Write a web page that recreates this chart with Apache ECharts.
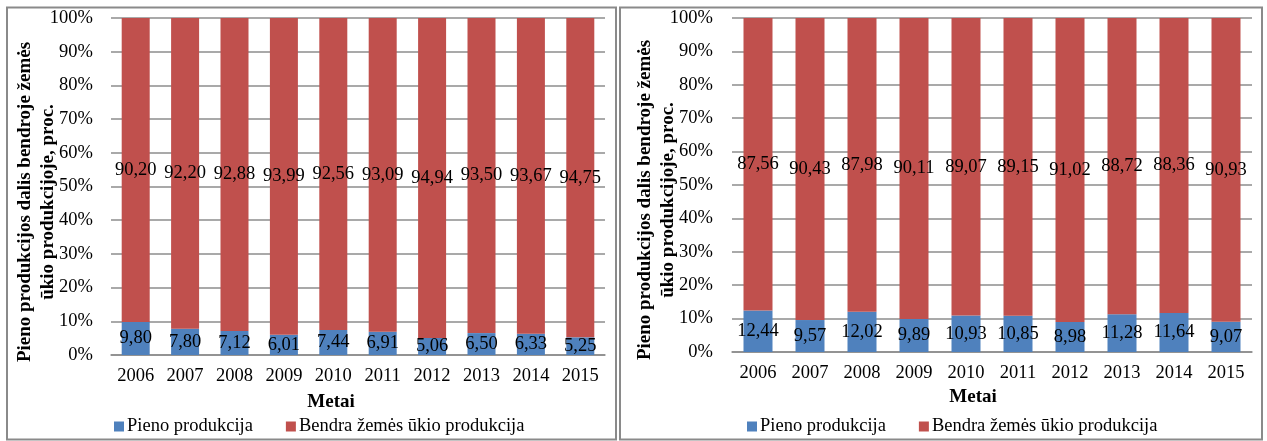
<!DOCTYPE html>
<html>
<head>
<meta charset="utf-8">
<script src="https://cdn.jsdelivr.net/npm/echarts@6/dist/echarts.min.js"></script>
<style>
  html, body { margin: 0; padding: 0; background: #fff; }
  #chart { width: 1267px; height: 441px; }
</style>
</head>
<body>
<div id="chart"></div>
<script>
var years = ['2006', '2007', '2008', '2009', '2010', '2011', '2012', '2013', '2014', '2015'];

// left panel
var milkA = [9.80, 7.80, 7.12, 6.01, 7.44, 6.91, 5.06, 6.50, 6.33, 5.25];
var totalA = [90.20, 92.20, 92.88, 93.99, 92.56, 93.09, 94.94, 93.50, 93.67, 94.75];
// right panel
var milkB = [12.44, 9.57, 12.02, 9.89, 10.93, 10.85, 8.98, 11.28, 11.64, 9.07];
var totalB = [87.56, 90.43, 87.98, 90.11, 89.07, 89.15, 91.02, 88.72, 88.36, 90.93];

var nameMilk = 'Pieno produkcija';
var nameTotal = 'Bendra žemės ūkio produkcija';
var yTitle = 'Pieno produkcijos dalis bendroje žemės\nūkio produkcijoje, proc.';

var font = 'Liberation Serif';
var fs = 18.5;
var titleFont = 'bold 19px "Liberation Serif"';
var blue = '#4f81bd';
var red = '#c0504d';
var gridGray = '#8c8c8c';

var chart = echarts.init(document.getElementById('chart'));

function fmt(p) {
    return p.value.toFixed(2).replace('.', ',');
}

function xAx(idx) {
    return {
        type: 'category',
        gridIndex: idx,
        data: years,
        axisLine: { lineStyle: { color: gridGray, width: 1.5 } },
        axisTick: { show: false },
        axisLabel: { color: '#000', fontFamily: font, fontSize: fs, margin: 12 }
    };
}

function yAx(idx, margin) {
    return {
        type: 'value',
        gridIndex: idx,
        min: 0,
        max: 100,
        interval: 10,
        axisLine: { show: false },
        axisTick: { show: false },
        splitLine: { lineStyle: { color: gridGray, width: 1.5 } },
        axisLabel: { color: '#000', fontFamily: font, fontSize: fs, margin: margin, formatter: '{value}%' }
    };
}

function bar(name, data, color, idx, stack, w) {
    return {
        name: name,
        type: 'bar',
        stack: stack,
        xAxisIndex: idx,
        yAxisIndex: idx,
        data: data,
        barWidth: w,
        itemStyle: { color: color },
        label: {
            show: true,
            position: 'inside',
            color: '#000',
            fontFamily: font,
            fontSize: fs,
            formatter: fmt
        }
    };
}

function legendAt(left) {
    return {
        left: left,
        top: 412,
        itemWidth: 10,
        itemHeight: 10,
        itemGap: 33,
        icon: 'rect',
        selectedMode: false,
        textStyle: { color: '#000', fontFamily: font, fontSize: fs, padding: [0, 0, 0, -2] },
        data: [nameMilk, nameTotal]
    };
}

var option = {
    backgroundColor: '#fff',
    animation: false,
    grid: [
        { left: 111, right: 662, top: 18, bottom: 86 },
        { left: 732, right: 15, top: 18, bottom: 89 }
    ],
    xAxis: [xAx(0), xAx(1)],
    yAxis: [yAx(0, 18), yAx(1, 19)],
    legend: [legendAt(109), legendAt(742)],
    series: [
        bar(nameMilk, milkA, blue, 0, 'a', 28),
        bar(nameTotal, totalA, red, 0, 'a', 28),
        bar(nameMilk, milkB, blue, 1, 'b', 29),
        bar(nameTotal, totalB, red, 1, 'b', 29)
    ],
    graphic: [
        // panel frames
        { type: 'rect', shape: { x: 7, y: 7.5, width: 609, height: 432 }, style: { fill: null, stroke: '#8a8a8a', lineWidth: 2 } },
        { type: 'rect', shape: { x: 620, y: 7.5, width: 642, height: 432 }, style: { fill: null, stroke: '#8a8a8a', lineWidth: 2 } },
        // axis titles
        { type: 'text', x: 37, y: 202, rotation: Math.PI / 2,
          style: { text: yTitle, font: titleFont, fill: '#000', textAlign: 'center', textVerticalAlign: 'middle', lineHeight: 23 } },
        { type: 'text', x: 657, y: 200, rotation: Math.PI / 2,
          style: { text: yTitle, font: titleFont, fill: '#000', textAlign: 'center', textVerticalAlign: 'middle', lineHeight: 23 } },
        { type: 'text', x: 331, y: 402,
          style: { text: 'Metai', font: titleFont, fill: '#000', textAlign: 'center', textVerticalAlign: 'middle' } },
        { type: 'text', x: 973, y: 397,
          style: { text: 'Metai', font: titleFont, fill: '#000', textAlign: 'center', textVerticalAlign: 'middle' } }
    ]
};

chart.setOption(option);
</script>
</body>
</html>
